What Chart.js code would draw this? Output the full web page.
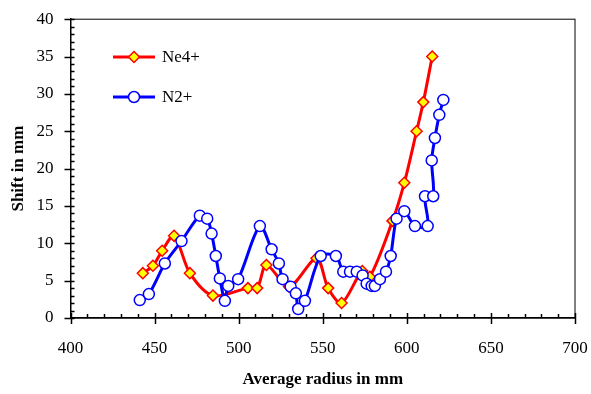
<!DOCTYPE html>
<html>
<head>
<meta charset="utf-8">
<script src="https://cdn.jsdelivr.net/npm/chart.js@4/dist/chart.umd.min.js"></script>
<style>
  html, body { margin: 0; padding: 0; background: #fff; }
  #wrap { width: 591px; height: 394px; }
</style>
</head>
<body>
<div id="wrap"><canvas id="chart_shift" width="591" height="394"></canvas></div>
<script>
// values
const neRadius = [443, 449, 454.5, 461.6, 471, 484.7, 505.5, 511, 516.5, 530, 546.3, 553.2, 561.2, 573.5, 578, 591.5, 598.5, 605.8, 609.8, 615.1];
const neShift  = [6, 7, 9, 11, 6, 3, 4, 4, 7.1, 4.2, 8, 4, 2, 6.3, 5.5, 13, 18.1, 25, 28.9, 35];

const n2Radius = [441.2, 446.6, 456.1, 466, 476.9, 481.3, 483.9, 486.4, 488.8, 491.8, 493.8, 499.7, 512.6, 519.6, 523.9, 526.1, 530.9, 534, 535.4, 539.4, 548.8, 557.8, 562.2, 566.2, 570.2, 573.7, 576.1, 579.1, 581, 584, 587.6, 590.4, 593.9, 598.5, 604.8, 612.4, 610.8, 615.7, 614.8, 616.7, 619.3, 621.7];
const n2Shift  = [2.4, 3.2, 7.3, 10.3, 13.7, 13.3, 11.3, 8.3, 5.3, 2.3, 4.3, 5.2, 12.3, 9.2, 7.3, 5.2, 4.2, 3.3, 1.2, 2.3, 8.3, 8.3, 6.2, 6.2, 6.2, 5.7, 4.6, 4.3, 4.3, 5.2, 6.2, 8.3, 13.3, 14.3, 12.3, 12.3, 16.3, 16.3, 21.1, 24.1, 27.2, 29.2];

const seriesNames = ["Ne4+", "N2+"];
const xTicks = [400, 450, 500, 550, 600, 650, 700];
const yTicks = [0, 5, 10, 15, 20, 25, 30, 35, 40];

const toPoints = (xs, ys) => xs.map((x, i) => ({x: x, y: ys[i]}));
const serif = "'Liberation Serif', 'Times New Roman', serif";

// tick marks (major crossing the axis, minor inside), frame and legend
const axisDeco = {
  id: 'axisDeco',
  afterDraw(chart) {
    const ctx = chart.ctx;
    const a = chart.chartArea;
    const xs = chart.scales.x, ys = chart.scales.y;
    ctx.save();
    ctx.strokeStyle = '#000';
    ctx.lineWidth = 1;
    ctx.strokeRect(a.left, a.top, a.right - a.left, a.bottom - a.top);

    ctx.lineWidth = 1.5;
    ctx.beginPath();
    for (let v = 400; v <= 700; v += 10) {
      const px = Math.round(xs.getPixelForValue(v)) + 0.5;
      if (v % 50 === 0) { ctx.moveTo(px, a.bottom + 6); ctx.lineTo(px, a.bottom - 5); }
      else { ctx.moveTo(px, a.bottom); ctx.lineTo(px, a.bottom - 4); }
    }
    for (let v = 0; v <= 40; v += 1) {
      const py = Math.round(ys.getPixelForValue(v)) + 0.5;
      if (v % 5 === 0) { ctx.moveTo(a.left - 6, py); ctx.lineTo(a.left + 4, py); }
      else { ctx.moveTo(a.left, py); ctx.lineTo(a.left + 4, py); }
    }
    ctx.stroke();

    // legend inside the plot
    chart.data.datasets.forEach((ds, i) => {
      const y = 57 + i * 40;
      ctx.strokeStyle = ds.borderColor;
      ctx.lineWidth = 3;
      ctx.beginPath();
      ctx.moveTo(113, y); ctx.lineTo(155, y);
      ctx.stroke();
      ctx.fillStyle = ds.pointBackgroundColor;
      ctx.strokeStyle = ds.pointBorderColor;
      ctx.lineWidth = ds.pointBorderWidth;
      Chart.helpers.drawPoint(ctx, {pointStyle: ds.pointStyle, radius: ds.pointRadius, borderWidth: ds.pointBorderWidth}, 134, y);
      ctx.fillStyle = '#000';
      ctx.font = '17px ' + serif;
      ctx.textAlign = 'left';
      ctx.textBaseline = 'middle';
      ctx.fillText(ds.label, 162, y + 1);
    });
    ctx.restore();
  }
};

new Chart('chart_shift', {
  type: 'scatter',
  data: {
    datasets: [{
      label: seriesNames[0],
      data: toPoints(neRadius, neShift),
      showLine: true,
      tension: 0.3,
      borderColor: '#ff0000',
      borderWidth: 3,
      pointStyle: 'rectRot',
      pointRadius: 5.5,
      pointHoverRadius: 5.5,
      pointBackgroundColor: '#ffff00',
      pointBorderColor: '#ff0000',
      pointBorderWidth: 1.5,
      order: 2
    }, {
      label: seriesNames[1],
      data: toPoints(n2Radius, n2Shift),
      showLine: true,
      tension: 0.3,
      borderColor: '#0000ff',
      borderWidth: 3,
      pointStyle: 'circle',
      pointRadius: 5.5,
      pointHoverRadius: 5.5,
      pointBackgroundColor: '#ffffff',
      pointBorderColor: '#0000ff',
      pointBorderWidth: 1.5,
      order: 1
    }]
  },
  options: {
    responsive: false,
    animation: false,
    events: [],
    layout: {padding: {left: 0, top: 9, right: 16, bottom: 0}},
    plugins: {legend: {display: false}, tooltip: {enabled: false}},
    scales: {
      x: {
        type: 'linear',
        min: 400, max: 700,
        afterBuildTicks: s => { s.ticks = xTicks.map(v => ({value: v})); },
        afterFit: s => { s.height = 76; s.paddingRight = 0; },
        grid: {display: false},
        border: {display: true, color: '#000', width: 1.5},
        ticks: {color: '#000', font: {family: serif, size: 17}, padding: 12, maxRotation: 0},
        title: {display: true, text: 'Average radius in mm', color: '#000',
                font: {family: serif, size: 17, weight: 'bold'}, padding: {top: 17}}
      },
      y: {
        type: 'linear',
        min: 0, max: 40,
        afterBuildTicks: s => { s.ticks = yTicks.map(v => ({value: v})); },
        afterFit: s => { s.width = 70.5; },
        grid: {display: false},
        border: {display: true, color: '#000', width: 1.5},
        ticks: {color: '#000', font: {family: serif, size: 17}, padding: 9},
        title: {display: true, text: 'Shift in mm', color: '#000',
                font: {family: serif, size: 17, weight: 'bold'}, padding: {top: 8, bottom: 4}}
      }
    }
  },
  plugins: [axisDeco]
});
</script>
</body>
</html>
